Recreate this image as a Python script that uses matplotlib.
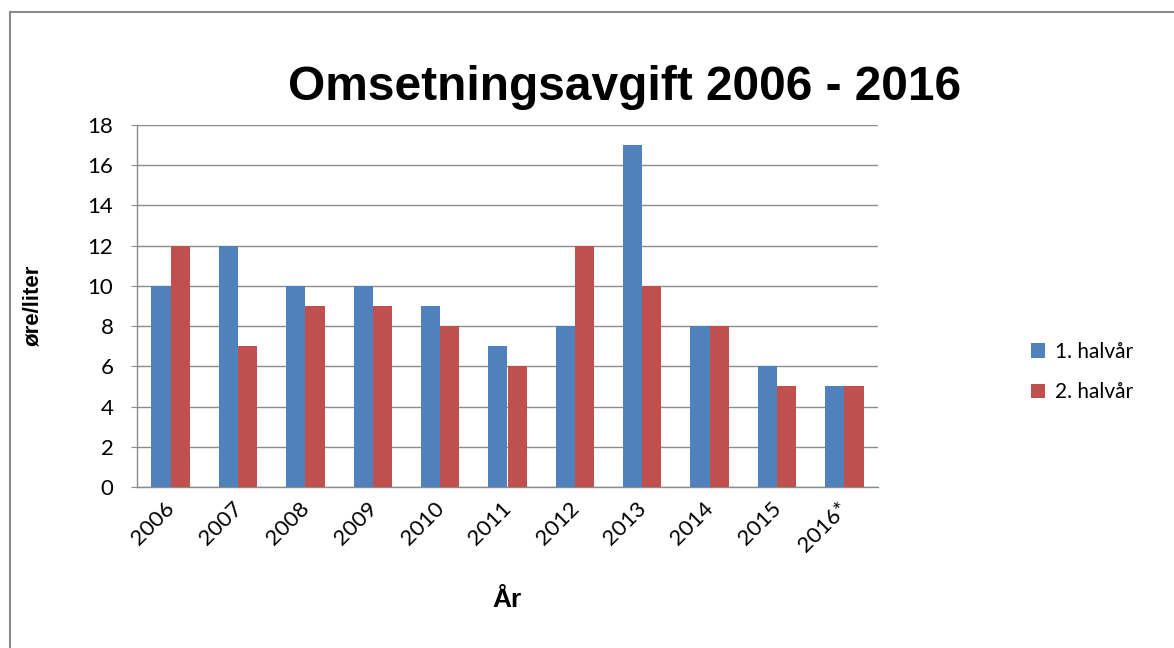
import matplotlib
matplotlib.use("Agg")
import matplotlib.pyplot as plt
import numpy as np
from matplotlib.lines import Line2D

years = ["2006", "2007", "2008", "2009", "2010", "2011", "2012", "2013", "2014", "2015", "2016*"]
first_half = [10, 12, 10, 10, 9, 7, 8, 17, 8, 6, 5]
second_half = [12, 7, 9, 9, 8, 6, 12, 10, 8, 5, 5]
series_names = ["1. halvår", "2. halvår"]
yticks = [0, 2, 4, 6, 8, 10, 12, 14, 16, 18]

W, H = 1174, 648
fig = plt.figure(figsize=(W / 100, H / 100), dpi=100)
ax = fig.add_axes([137 / W, 1 - 487 / H, (878 - 137) / W, (487 - 125) / H])

x = np.arange(len(years))
bw = 1 / 3.5
ax.bar(x - bw / 2, first_half, bw, color="#4F81BD", label=series_names[0], zorder=3)
ax.bar(x + bw / 2, second_half, bw, color="#C0504D", label=series_names[1], zorder=3)

ax.set_xlim(-0.5, len(years) - 0.5)
ax.set_ylim(0, 18)
ax.set_yticks(yticks)
ax.yaxis.grid(True, color="#8c8c8c", linewidth=1.0, zorder=0)
ax.set_axisbelow(True)
for s in ["top", "right"]:
    ax.spines[s].set_visible(False)
for s in ["left", "bottom"]:
    ax.spines[s].set_color("#8c8c8c")
    ax.spines[s].set_linewidth(1.0)

tickfont = dict(family=["Lato", "DejaVu Sans"], size=16)
ax.set_xticks(x)
ax.set_xticklabels(years, rotation=45, ha="right", va="top", rotation_mode="anchor", **tickfont)
ax.set_yticklabels([str(v) for v in yticks], **tickfont)
ax.tick_params(axis="x", length=0, pad=8)
for lbl in ax.get_xticklabels():
    lbl.set_x(lbl.get_position()[0])
offset = matplotlib.transforms.ScaledTranslation(-6 / 100, 0, fig.dpi_scale_trans)
for lbl in ax.get_xticklabels():
    lbl.set_transform(lbl.get_transform() + offset)
ax.tick_params(axis="y", length=4, color="#8c8c8c", pad=13)

fig.text(33 / W, 1 - 305 / H, "øre/liter", family=["Liberation Sans", "DejaVu Sans"], fontweight="bold",
         fontsize=16, rotation=90, ha="center", va="center")
fig.text(507 / W, 1 - 600 / H, "År", family=["Liberation Sans", "DejaVu Sans"], fontweight="bold",
         fontsize=19, ha="center", va="center")
fig.text(625 / W, 1 - 87 / H, "Omsetningsavgift 2006 - 2016", family=["Liberation Sans", "DejaVu Sans"],
         fontweight="bold", fontsize=34.5, ha="center", va="center")

leg = fig.legend(loc="center left", bbox_to_anchor=(1012 / W, 1 - 372 / H), frameon=False,
                 prop=dict(family=["Lato", "DejaVu Sans"], size=15), handlelength=0.7, handleheight=0.7,
                 handletextpad=0.45, labelspacing=1.0)

fig.add_artist(Line2D([10 / W, 10 / W], [0, 1 - 12 / H], transform=fig.transFigure, color="#8c8c8c", linewidth=1.5))
fig.add_artist(Line2D([10 / W, 1], [1 - 12 / H, 1 - 12 / H], transform=fig.transFigure, color="#8c8c8c", linewidth=1.5))

fig.savefig("out.png", dpi=100, facecolor="white")
